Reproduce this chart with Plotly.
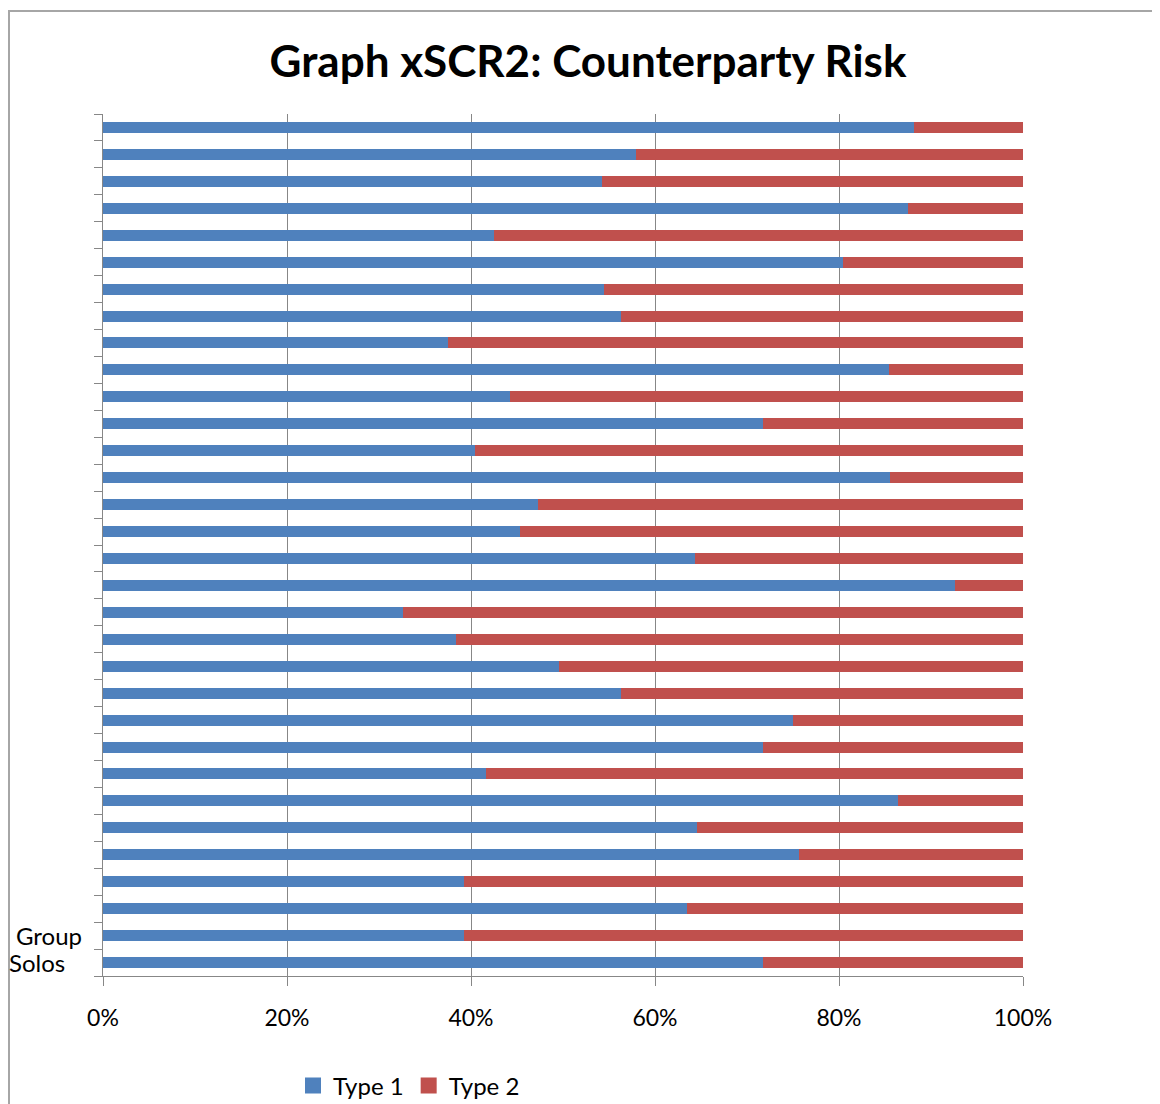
import plotly.graph_objects as go

# Row order: top to bottom
rows = list(range(32))
row_labels = [""] * 30 + ["Group", "Solos"]

type1 = [88.2, 57.9, 54.2, 87.5, 42.5, 80.4, 54.5, 56.3, 37.5, 85.4,
         44.2, 71.7, 40.4, 85.5, 47.3, 45.3, 64.3, 92.6, 32.6, 38.4,
         49.6, 56.3, 75.0, 71.7, 41.6, 86.4, 64.6, 75.7, 39.2, 63.5,
         39.2, 71.7]
type2 = [11.8, 42.1, 45.8, 12.5, 57.5, 19.6, 45.5, 43.7, 62.5, 14.6,
         55.8, 28.3, 59.6, 14.5, 52.7, 54.7, 35.7, 7.4, 67.4, 61.6,
         50.4, 43.7, 25.0, 28.3, 58.4, 13.6, 35.4, 24.3, 60.8, 36.5,
         60.8, 28.3]
series_names = ["Type 1", "Type 2"]

x_ticks = [0, 20, 40, 60, 80, 100]
x_tick_labels = ["0%", "20%", "40%", "60%", "80%", "100%"]

BLUE = "#4F81BD"
RED = "#C0504D"
GRAY = "#878787"
FONT = "Lato"

fig = go.Figure()
for vals, name, col in [(type1, series_names[0], BLUE), (type2, series_names[1], RED)]:
    fig.add_trace(go.Bar(y=rows, x=vals, orientation="h", name=name,
                         legendgroup=name, showlegend=False,
                         marker=dict(color=col, line=dict(width=0))))
# legend entries with larger square swatches
for name, col in [(series_names[0], BLUE), (series_names[1], RED)]:
    fig.add_trace(go.Scatter(x=[None], y=[None], mode="markers", name=name,
                             legendgroup=name,
                             marker=dict(symbol="square", size=16, color=col)))

OFF = 8  # page body margin
L, R, T, B = 103 - OFF, 1023 - OFF, 114 - OFF, 976 - OFF
W, H = 1160 - OFF, 1104 - OFF

fig.update_layout(
    width=W, height=H,
    margin=dict(l=L, r=W - R, t=T, b=H - B, autoexpand=False),
    barmode="stack", bargap=0.59,
    plot_bgcolor="white", paper_bgcolor="white",
    font=dict(family=FONT, color="black", size=23),
    title=dict(text="<b>Graph xSCR2: Counterparty Risk</b>",
               x=(588 - OFF) / W, xanchor="center", y=1 - (62 - OFF) / H,
               yanchor="middle",
               font=dict(family=FONT, size=44, color="black")),
    showlegend=True,
    legend=dict(orientation="h", x=(409 - OFF - L) / (R - L), xanchor="center",
                y=(B - (1086 - OFF)) / (B - T), yanchor="middle",
                font=dict(family=FONT, size=24), traceorder="normal",
                itemwidth=30, tracegroupgap=0, itemclick=False),
    xaxis=dict(range=[0, 100], tickmode="array", tickvals=x_ticks,
               ticktext=x_tick_labels,
               showgrid=True, gridcolor=GRAY, gridwidth=1,
               showline=True, linecolor=GRAY, linewidth=1,
               ticks="outside", ticklen=9, tickcolor=GRAY,
               ticklabelstandoff=12, zeroline=False, automargin=False,
               tickfont=dict(family=FONT, size=23)),
    yaxis=dict(range=[31.5, -0.5], tickmode="array",
               tickvals=[i - 0.5 for i in range(33)],
               showticklabels=False, showgrid=False, zeroline=False,
               showline=True, linecolor=GRAY, linewidth=1, automargin=False,
               ticks="outside", ticklen=8, tickcolor=GRAY),
)

label_x = {"Group": 48.5, "Solos": 36.5}
for i, lab in enumerate(row_labels):
    if lab:
        fig.add_annotation(text=lab, xref="paper", yref="y",
                           x=(label_x[lab] - OFF - L) / (R - L), y=rows[i],
                           showarrow=False, xanchor="center", yanchor="middle",
                           font=dict(family=FONT, size=24, color="black"))

# outer chart border
fig.add_shape(type="rect", xref="paper", yref="paper",
              x0=(1 - L) / (R - L), x1=(1200 - L) / (R - L),
              y0=(B - 1150) / (B - T), y1=(B - (11 - OFF)) / (B - T),
              line=dict(color="#A6A6A6", width=2), fillcolor="rgba(0,0,0,0)",
              layer="below")

fig.write_html("out.html")
